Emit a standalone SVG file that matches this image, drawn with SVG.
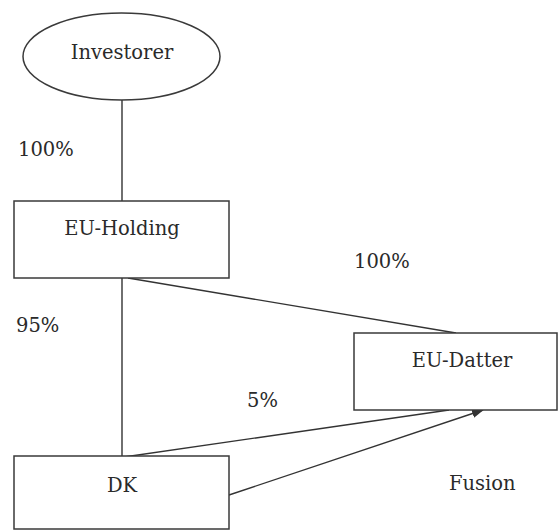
<svg xmlns="http://www.w3.org/2000/svg" width="558" height="531" viewBox="0 0 558 531">
<style>
.n{fill:#fff;stroke:#3a3a3a;stroke-width:1.5}
.t{font-family:'DejaVu Serif',serif;font-size:19.5px;fill:#2a2a2a}
.c{stroke:#333;stroke-width:1.4;fill:none}
</style>
<defs>
<marker id="ah" viewBox="0 0 12 10" refX="11" refY="5" markerWidth="12" markerHeight="10" markerUnits="userSpaceOnUse" orient="auto">
<path d="M0,0.5 L12,5 L0,9.5 Z" fill="#333"/>
</marker>
</defs>
<rect width="558" height="531" fill="#fff"/>
<g id="connectors">
<line class="c" x1="122" y1="100" x2="122" y2="201"/>
<line class="c" x1="122" y1="278" x2="122" y2="457"/>
<line class="c" x1="128" y1="278" x2="456" y2="333"/>
<line class="c" x1="124" y1="457" x2="449" y2="410"/>
<line class="c" x1="229" y1="495" x2="483" y2="410" marker-end="url(#ah)"/>
</g>
<g id="investorer">
<ellipse class="n" cx="121.5" cy="56.5" rx="98.5" ry="43.5"/>
<text class="t" x="122" y="59" text-anchor="middle">Investorer</text>
</g>
<g id="eu-holding">
<rect class="n" x="14" y="201" width="215" height="77"/>
<text class="t" x="122" y="235" text-anchor="middle">EU-Holding</text>
</g>
<g id="eu-datter">
<rect class="n" x="354" y="333" width="203" height="77"/>
<text class="t" x="462" y="367" text-anchor="middle">EU-Datter</text>
</g>
<g id="dk">
<rect class="n" x="14" y="456" width="215" height="73"/>
<text class="t" x="122" y="492" text-anchor="middle">DK</text>
</g>
<g id="labels">
<text class="t" x="18" y="156">100%</text>
<text class="t" x="354" y="268">100%</text>
<text class="t" x="16" y="332">95%</text>
<text class="t" x="247" y="407">5%</text>
<text class="t" x="449" y="490">Fusion</text>
</g>
</svg>
